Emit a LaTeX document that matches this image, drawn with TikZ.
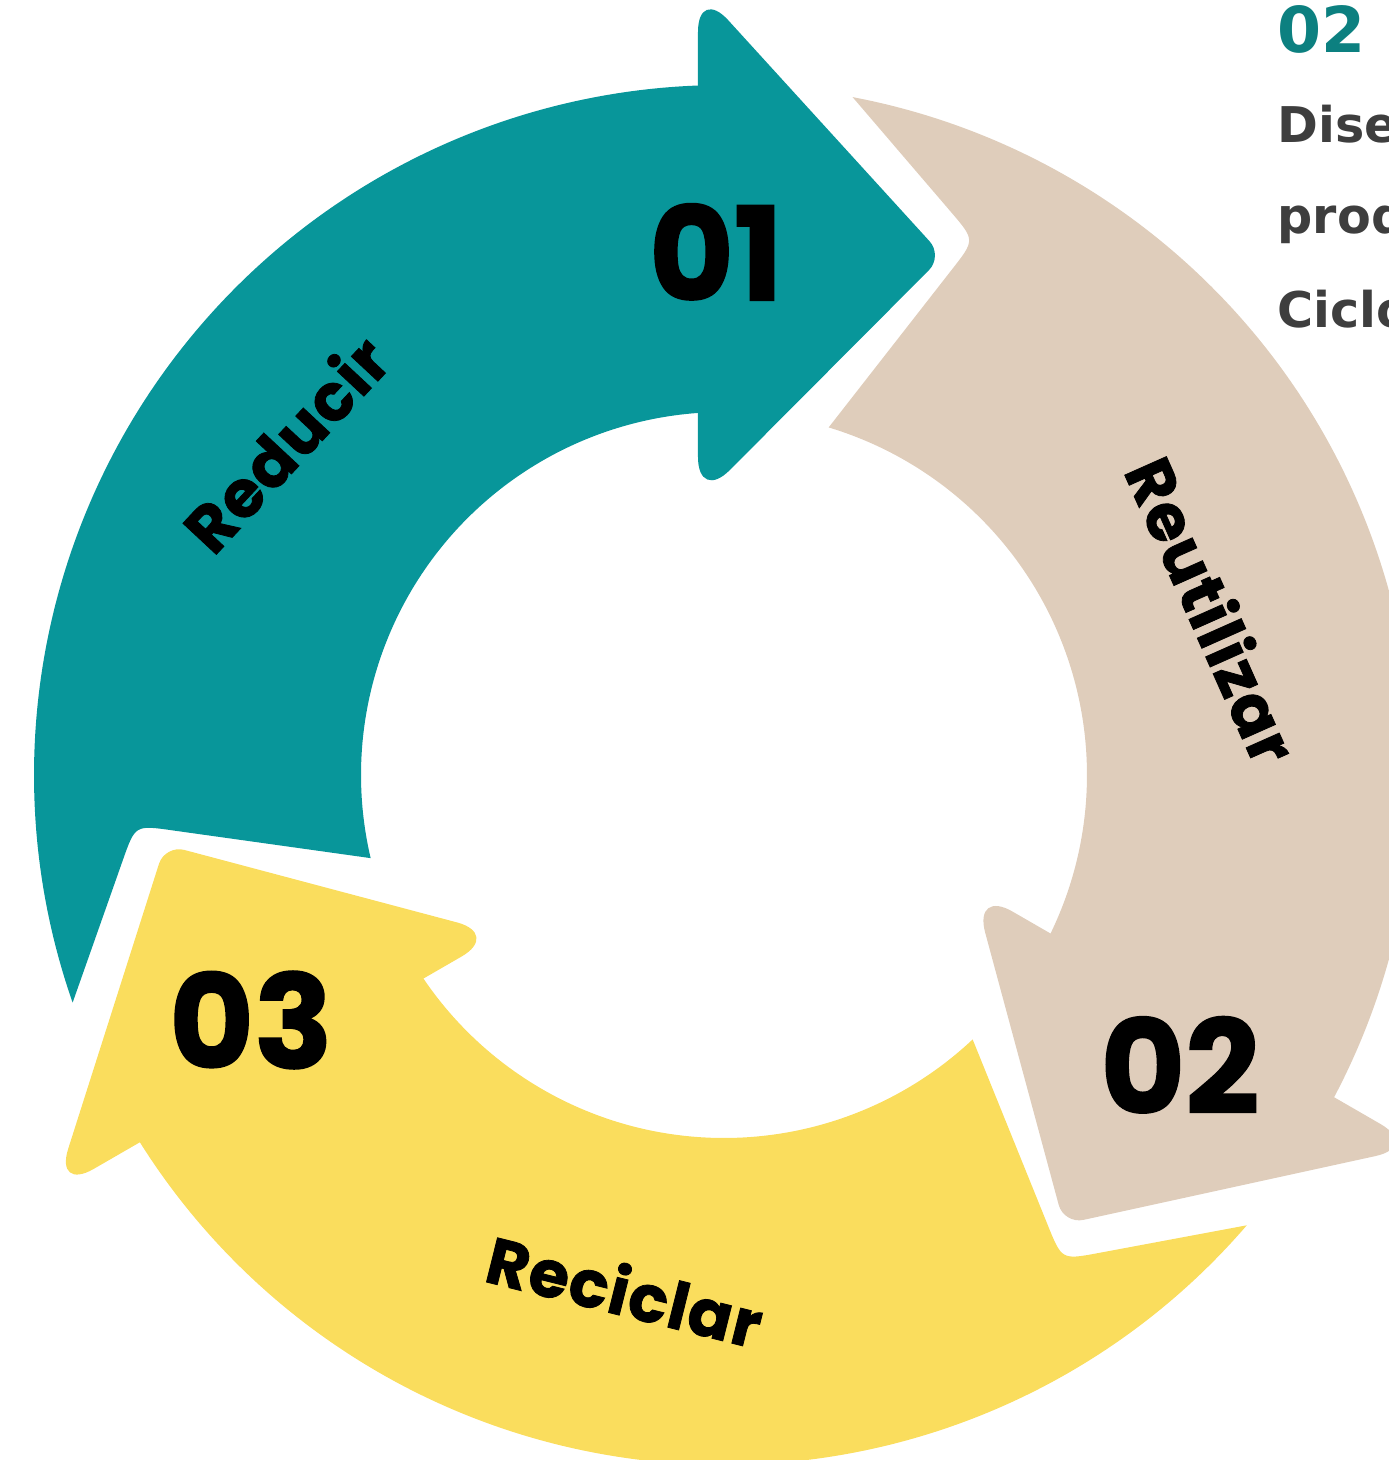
\documentclass[tikz,border=0pt]{standalone}
\usepackage{fontspec}
\newfontfamily\popfont{Poppins}
\newfontfamily\dejafont{DejaVu Sans}
\definecolor{tealc}{RGB}{8,150,154}
\definecolor{beigec}{RGB}{223,205,187}
\definecolor{yellowc}{RGB}{250,221,93}
\definecolor{titlec}{RGB}{12,128,128}
\definecolor{grayc}{RGB}{62,62,62}
\begin{document}
\begin{tikzpicture}[x=0.01cm,y=0.01cm,
  num/.style={font=\popfont\bfseries\fontsize{37}{37}\selectfont\addfontfeature{FakeBold=1.2}, text=black, inner sep=0pt},
  lab/.style={font=\popfont\bfseries\fontsize{18.5}{18.5}\selectfont\addfontfeature{FakeBold=1.2,LetterSpace=2}, text=black, inner sep=0pt},
  side/.style={font=\dejafont\bfseries\fontsize{14}{14}\selectfont, text=grayc, anchor=base west, inner sep=0pt}]
\useasboundingbox (-724,-685) rectangle (665,775);
\clip (-724,-685) rectangle (665,775);
\foreach \ang/\col in {0/tealc,-120/beigec,120/yellowc}{
  \begin{scope}[rotate=\ang]
    % body with notched tail
    \fill[\col] (199.26:690) arc[start angle=199.26, end angle=92.16, radius=690]
      -- (-20,690) -- (-20,362.5) -- (94.1:363)
      arc[start angle=94.1, end angle=193.24, radius=363]
      -- (-552,-55.3) .. controls (-588.8,-50.1) .. (-601.1,-85.0) -- cycle;
    % head with rounded corners
    \fill[\col] (-26,530) -- (-26,743) .. controls (-26,767.9) and (-12.4,773.1) .. (4.3,754.7)
      -- (205.5,533.8) .. controls (213.0,525.6) and (212.7,512.6) .. (204.9,504.8)
      -- (5.8,304.9) .. controls (-11.8,287.3) and (-26,293.1) .. (-26,318) -- cycle;
  \end{scope}
}
\node[num] (n01) at (-8,523) {01};
\node[num] (n02) at (456,-290) {02};
\node[num] (n03) at (-473,-245) {03};
\node[lab, rotate=47] (lred) at (-439,332) {Reducir};
\node[lab, rotate=-66] (lreu) at (489,165) {Reutilizar};
\node[lab, rotate=-14] (lrec) at (-99,-515) {Reciclar};
\node[side, text=titlec, font=\dejafont\bfseries\fontsize{18}{18}\selectfont] (t02) at (553,722) {02};
\node[side] (t1) at (553,632) {Dise};
\node[side] (t2) at (553,541) {prod};
\node[side] (t3) at (553,447) {Ciclo};
\end{tikzpicture}
\end{document}
